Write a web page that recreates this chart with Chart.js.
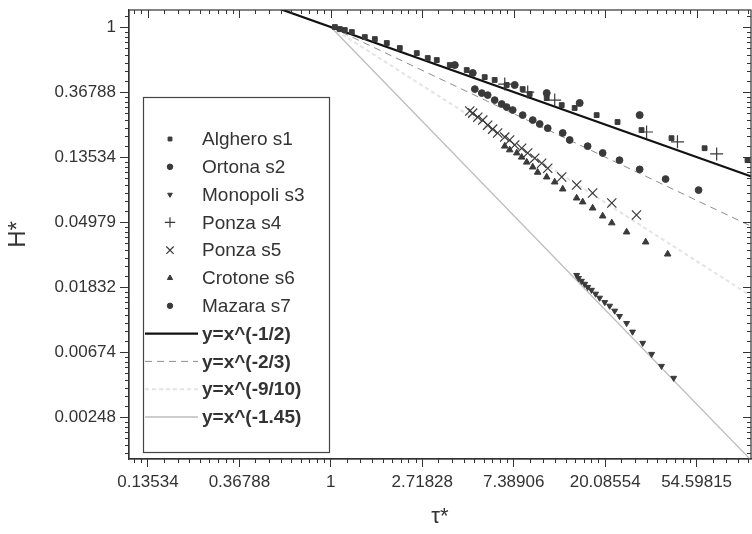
<!DOCTYPE html>
<html>
<head>
<meta charset="utf-8">
<script src="https://cdn.jsdelivr.net/npm/chart.js@4.4.1/dist/chart.umd.min.js"></script>
<style>
  html, body { margin: 0; padding: 0; background: #fff; overflow: hidden; }
  canvas { display: block; }
</style>
</head>
<body>
<canvas id="grafica" width="752" height="534"></canvas>
<script>
//* ticks de los ejes (potencias de e)
const xTicks = [0.13534, 0.36788, 1, 2.71828, 7.38906, 20.08554, 54.59815];
const xTickLabels = ["0.13534", "0.36788", "1", "2.71828", "7.38906", "20.08554", "54.59815"];
const yTicks = [1, 0.36788, 0.13534, 0.04979, 0.01832, 0.00674, 0.00248];
const yTickLabels = ["1", "0.36788", "0.13534", "0.04979", "0.01832", "0.00674", "0.00248"];

//* series medidas
const algheroX = [1.045, 1.103, 1.165, 1.258, 1.45, 1.618, 1.844, 2.126, 2.56, 2.886, 3.185, 3.672, 4.42, 5.38, 6.0, 6.84, 8.15, 8.8, 10.6, 12.49, 14.39, 18.3, 23.0, 29.9, 41.5, 59.6, 95.3];
const algheroY = [1.0, 0.97, 0.955, 0.926, 0.857, 0.831, 0.782, 0.724, 0.67, 0.621, 0.602, 0.557, 0.516, 0.463, 0.443, 0.41, 0.385, 0.357, 0.335, 0.301, 0.288, 0.258, 0.232, 0.205, 0.181, 0.155, 0.129];

const ortonaX = [3.88, 4.72, 7.47, 10.6, 15.2, 29.3];
const ortonaY = [0.557, 0.493, 0.41, 0.362, 0.311, 0.258];

const monopoliX = [14.71, 15.0, 15.5, 16.05, 16.6, 17.3, 18.1, 18.9, 20.0, 21.1, 22.3, 23.5, 25.4, 27.1, 30.3, 33.4, 37.2, 42.5];
const monopoliY = [0.022, 0.021, 0.0201, 0.0192, 0.0183, 0.0175, 0.0165, 0.0155, 0.0145, 0.0137, 0.0127, 0.0117, 0.0105, 0.0092, 0.00774, 0.00653, 0.00543, 0.00452];

const ponza4X = [6.7, 8.61, 11.57, 31.6, 44.3, 68.0];
const ponza4Y = [0.416, 0.368, 0.325, 0.199, 0.171, 0.142];

const ponza5X = [4.57, 4.72, 4.99, 5.27, 5.56, 5.87, 6.2, 6.7, 7.07, 7.47, 8.06, 8.61, 9.3, 10.03, 10.72, 12.49, 14.71, 17.52, 21.6, 28.3];
const ponza5Y = [0.275, 0.266, 0.25, 0.239, 0.221, 0.208, 0.196, 0.184, 0.176, 0.163, 0.155, 0.144, 0.133, 0.123, 0.114, 0.0995, 0.088, 0.0778, 0.0667, 0.0555];

const crotoneX = [6.7, 7.07, 7.64, 8.06, 8.52, 9.1, 9.6, 10.6, 11.57, 12.63, 14.71, 15.71, 17.52, 19.55, 21.6, 25.4, 31.3, 39.8];
const crotoneY = [0.16, 0.151, 0.144, 0.135, 0.125, 0.116, 0.107, 0.0995, 0.0921, 0.0827, 0.072, 0.0678, 0.0617, 0.0546, 0.0491, 0.0427, 0.0366, 0.0304];

const mazaraX = [4.83, 5.21, 5.56, 6.0, 6.48, 6.84, 7.31, 8.15, 9.1, 9.82, 10.72, 12.63, 13.63, 16.59, 19.55, 23.5, 29.3, 38.9, 55.8];
const mazaraY = [0.385, 0.362, 0.351, 0.325, 0.306, 0.292, 0.279, 0.258, 0.239, 0.225, 0.211, 0.196, 0.176, 0.16, 0.144, 0.129, 0.112, 0.0965, 0.0814];

//* rectas de referencia (extremos)
const recta12X = [0.5, 100];
const recta12Y = [1.41421, 0.1];
const recta23X = [1, 100];
const recta23Y = [1, 0.04642];
const recta910X = [1, 100];
const recta910Y = [1, 0.01585];
const recta145X = [1, 100];
const recta145Y = [1, 0.001259];

const puntos = (xs, ys) => xs.map((x, i) => ({ x: x, y: ys[i] }));

const gris = "#3a3a3a";

function serie(label, xs, ys, estilo, radio, extra) {
  return Object.assign({
    label: label,
    data: puntos(xs, ys),
    pointStyle: estilo,
    pointRadius: radio,
    pointBackgroundColor: gris,
    pointBorderColor: gris,
    pointBorderWidth: 1,
    showLine: false,
    order: 0
  }, extra || {});
}

function recta(label, xs, ys, color, ancho, dash) {
  return {
    label: label,
    data: puntos(xs, ys),
    showLine: true,
    borderColor: color,
    borderWidth: ancho,
    borderDash: dash,
    pointRadius: 0,
    fill: false,
    order: 10
  };
}

const datasets = [
  serie("Alghero s1", algheroX, algheroY, "rect", 3.4),
  serie("Ortona s2", ortonaX, ortonaY, "circle", 3.5),
  serie("Monopoli s3", monopoliX, monopoliY, "triangle", 3.4, { pointRotation: 180 }),
  serie("Ponza s4", ponza4X, ponza4Y, "cross", 6.5, { pointBorderWidth: 1.2 }),
  serie("Ponza s5", ponza5X, ponza5Y, "crossRot", 6.5, { pointBorderWidth: 1.2 }),
  serie("Crotone s6", crotoneX, crotoneY, "triangle", 3.8),
  serie("Mazara s7", mazaraX, mazaraY, "circle", 3.4),
  recta("y=x^(-1/2)", recta12X, recta12Y, "#111", 2.2, []),
  recta("y=x^(-2/3)", recta23X, recta23Y, "#8c8c8c", 1, [7, 5]),
  recta("y=x^(-9/10)", recta910X, recta910Y, "#e4e4e4", 2, [4, 3]),
  recta("y=x^(-1.45)", recta145X, recta145Y, "#bdbdbd", 1.3, [])
];

//* ticks menores: subdivisiones lineales entre potencias de e
function menores(k0, k1) {
  const out = [];
  for (let k = k0; k < k1; k++) {
    const a = Math.exp(k), b = Math.exp(k + 1);
    for (let j = 1; j < 9; j++) out.push(a + (b - a) * j / 9);
  }
  return out;
}

//* plugin para el marco y ticks menores
const marco = {
  id: "marco",
  afterDraw(chart) {
    const { ctx, chartArea: a, scales: { x, y } } = chart;
    ctx.save();
    ctx.strokeStyle = "#333";
    ctx.lineWidth = 1.2;
    ctx.strokeRect(a.left, a.top, a.right - a.left, a.bottom - a.top);
    ctx.lineWidth = 1;
    ctx.beginPath();
    menores(-3, 5).forEach(v => {
      const px = Math.round(x.getPixelForValue(v)) + 0.5;
      if (px <= a.left || px >= a.right) return;
      ctx.moveTo(px, a.bottom); ctx.lineTo(px, a.bottom + 4);
      ctx.moveTo(px, a.top); ctx.lineTo(px, a.top + 4);
    });
    xTicks.forEach(v => {
      const px = Math.round(x.getPixelForValue(v)) + 0.5;
      ctx.moveTo(px, a.top); ctx.lineTo(px, a.top + 8);
    });
    menores(-7, 1).forEach(v => {
      const py = Math.round(y.getPixelForValue(v)) + 0.5;
      if (py <= a.top || py >= a.bottom) return;
      ctx.moveTo(a.left - 4, py); ctx.lineTo(a.left, py);
      ctx.moveTo(a.right - 4, py); ctx.lineTo(a.right, py);
    });
    yTicks.forEach(v => {
      const py = Math.round(y.getPixelForValue(v)) + 0.5;
      ctx.moveTo(a.right - 8, py); ctx.lineTo(a.right, py);
    });
    ctx.stroke();
    ctx.restore();
  }
};

//* plugin para la leyenda dentro del grafico
const leyenda = {
  id: "leyenda",
  afterDatasetsDraw(chart) {
    const ctx = chart.ctx;
    ctx.save();
    ctx.fillStyle = "#fff";
    ctx.fillRect(143.5, 97.5, 186, 355);
    ctx.strokeStyle = "#444";
    ctx.lineWidth = 1.2;
    ctx.strokeRect(143.5, 97.5, 186, 355);
    ctx.textBaseline = "middle";
    ctx.textAlign = "left";
    chart.data.datasets.forEach((ds, i) => {
      const yy = 139 + i * 27.8;
      if (ds.showLine) {
        ctx.save();
        ctx.strokeStyle = ds.borderColor;
        ctx.lineWidth = ds.borderWidth;
        ctx.setLineDash(ds.borderDash || []);
        ctx.beginPath();
        ctx.moveTo(145, yy); ctx.lineTo(198, yy);
        ctx.stroke();
        ctx.restore();
        ctx.font = "bold 19px 'Liberation Sans', Arial, sans-serif";
      } else {
        ctx.save();
        ctx.fillStyle = gris;
        ctx.strokeStyle = gris;
        ctx.lineWidth = ds.pointBorderWidth;
        const opt = { pointStyle: ds.pointStyle, radius: ds.pointRadius * 0.8, rotation: ds.pointRotation || 0, borderWidth: ds.pointBorderWidth };
        Chart.helpers.drawPoint(ctx, opt, 170, yy);
        ctx.restore();
        ctx.font = "19px 'Liberation Sans', Arial, sans-serif";
      }
      ctx.fillStyle = "#333";
      ctx.fillText(ds.label, 202, yy + 1);
    });
    ctx.restore();
  }
};

Chart.defaults.font.family = "'Liberation Sans', Arial, sans-serif";
Chart.defaults.color = "#333";

new Chart(document.getElementById("grafica"), {
  type: "scatter",
  data: { datasets: datasets },
  plugins: [marco, leyenda],
  options: {
    responsive: false,
    animation: false,
    devicePixelRatio: 1,
    layout: { autoPadding: false, padding: { left: 0, top: 10, right: 1, bottom: 0 } },
    plugins: { legend: { display: false }, tooltip: { enabled: false } },
    scales: {
      x: {
        type: "logarithmic",
        min: 0.11,
        max: 99,
        afterBuildTicks: s => { s.ticks = xTicks.map(v => ({ value: v })); },
        afterFit: s => { s.height = 75; s.paddingLeft = 0; s.paddingRight = 0; },
        ticks: {
          autoSkip: false,
          maxRotation: 0,
          padding: 5,
          font: { size: 17 },
          color: "#333",
          callback: (v, i) => xTickLabels[i]
        },
        grid: { drawOnChartArea: false, tickLength: 8, color: "#333" },
        border: { display: true, color: "#333", width: 1.2 },
        title: { display: true, text: "τ*", font: { size: 22 }, color: "#333", padding: { top: 0, bottom: 4 } }
      },
      y: {
        type: "logarithmic",
        min: 0.0013,
        max: 1.3,
        afterBuildTicks: s => { s.ticks = yTicks.map(v => ({ value: v })); },
        afterFit: s => { s.width = 129; s.paddingTop = 0; s.paddingBottom = 0; },
        ticks: {
          autoSkip: false,
          padding: 4,
          font: { size: 17 },
          color: "#333",
          callback: (v, i) => yTickLabels[i]
        },
        grid: { drawOnChartArea: false, tickLength: 9, color: "#333" },
        border: { display: true, color: "#333", width: 1.2 },
        title: { display: true, text: "H*", font: { size: 24 }, color: "#333", padding: { top: 4, bottom: 0 } }
      }
    }
  }
});
</script>
</body>
</html>
